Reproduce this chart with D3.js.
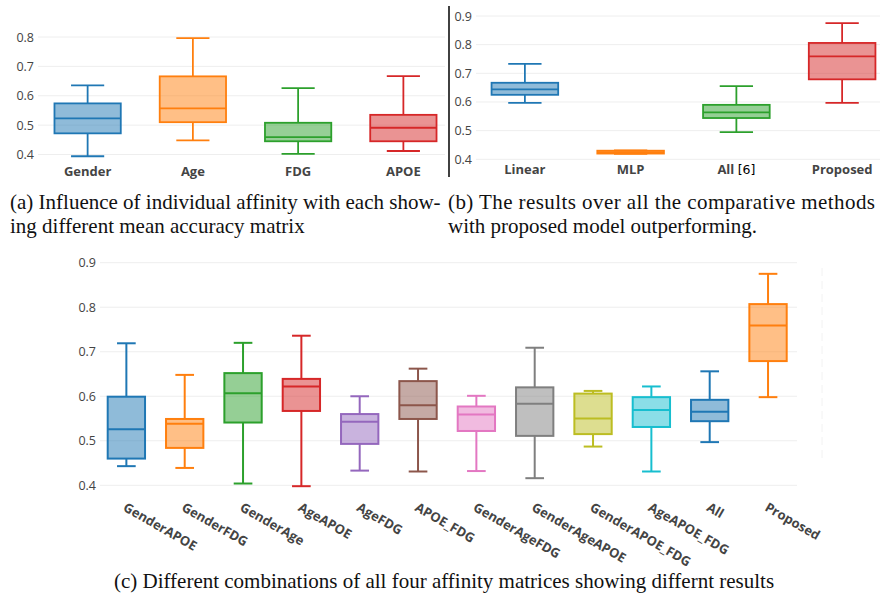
<!DOCTYPE html>
<html>
<head>
<meta charset="utf-8">
<script src="https://cdn.jsdelivr.net/npm/d3@7"></script>
<style>
  html, body { margin: 0; padding: 0; background: #fff; }
  svg { display: block; }
</style>
</head>
<body>
<svg id="chart" width="880" height="597"></svg>
<script>
// ---------- DATA ----------
// Panel (a): individual affinity
const aCategories = ["Gender", "Age", "FDG", "APOE"];
const aLower  = [0.394, 0.448, 0.402, 0.412];
const aQ1     = [0.472, 0.510, 0.445, 0.445];
const aMedian = [0.523, 0.557, 0.459, 0.491];
const aQ3     = [0.574, 0.666, 0.508, 0.535];
const aUpper  = [0.635, 0.796, 0.626, 0.667];
const aTicks  = [0.4, 0.5, 0.6, 0.7, 0.8];

// Panel (b): comparative methods
const bCategories = ["Linear", "MLP", "All [6]", "Proposed"];
const bLower  = [0.597, 0.419, 0.495, 0.597];
const bQ1     = [0.625, 0.420, 0.544, 0.679];
const bMedian = [0.644, 0.425, 0.564, 0.759];
const bQ3     = [0.667, 0.430, 0.590, 0.806];
const bUpper  = [0.733, 0.431, 0.655, 0.875];
const bTicks  = [0.4, 0.5, 0.6, 0.7, 0.8, 0.9];

// Panel (c): combinations
const cCategories = ["GenderAPOE", "GenderFDG", "GenderAge", "AgeAPOE", "AgeFDG", "APOE_FDG",
  "GenderAgeFDG", "GenderAgeAPOE", "GenderAPOE_FDG", "AgeAPOE_FDG", "All", "Proposed"];
const cLower  = [0.443, 0.439, 0.404, 0.398, 0.433, 0.431, 0.432, 0.416, 0.487, 0.431, 0.497, 0.598];
const cQ1     = [0.460, 0.484, 0.541, 0.567, 0.493, 0.549, 0.522, 0.511, 0.515, 0.531, 0.544, 0.679];
const cMedian = [0.526, 0.538, 0.607, 0.622, 0.543, 0.580, 0.559, 0.583, 0.550, 0.569, 0.565, 0.759];
const cQ3     = [0.599, 0.549, 0.652, 0.639, 0.560, 0.634, 0.577, 0.620, 0.606, 0.598, 0.592, 0.807];
const cUpper  = [0.719, 0.648, 0.720, 0.736, 0.600, 0.662, 0.601, 0.709, 0.612, 0.622, 0.656, 0.875];
const cTicks  = [0.4, 0.5, 0.6, 0.7, 0.8, 0.9];

// Captions
const captionA = ["(a) Influence of individual affinity with each show-", "ing different mean accuracy matrix"];
const captionB = ["(b) The results over all the comparative methods", "with proposed model outperforming."];
const captionC = "(c) Different combinations of all four affinity matrices showing differnt results";

// ---------- STYLE ----------
const palette = ["#1f77b4", "#ff7f0e", "#2ca02c", "#d62728", "#9467bd", "#8c564b",
                 "#e377c2", "#7f7f7f", "#bcbd22", "#17becf"];
const aColors = [palette[0], palette[1], palette[2], palette[3]];
const bColors = [palette[0], palette[1], palette[2], palette[3]];
const cColors = palette.concat([palette[0], palette[1]]);

const svg = d3.select("#chart");
const tickFont = "'Open Sans', 'DejaVu Sans', sans-serif";

function zipBoxes(cats, lo, q1, med, q3, hi, colors) {
  return cats.map((c, i) => ({ cat: c, lo: lo[i], q1: q1[i], med: med[i], q3: q3[i], hi: hi[i], color: colors[i] }));
}

function drawPanel(opts) {
  const g = svg.append("g");
  const y = d3.scaleLinear().domain(opts.yDomain).range(opts.yRange);
  const x = d3.scaleBand().domain(opts.categories).range(opts.xRange).paddingInner(0).paddingOuter(0);

  // grid lines
  g.append("g").selectAll("line").data(opts.ticks).join("line")
    .attr("x1", opts.gridX[0]).attr("x2", opts.gridX[1])
    .attr("y1", d => y(d)).attr("y2", d => y(d))
    .attr("stroke", "#eeeeee").attr("stroke-width", 1);

  // y axis labels
  const axis = d3.axisLeft(y).tickValues(opts.ticks).tickSize(0).tickPadding(0)
    .tickFormat(d3.format(".1f"));
  const ag = g.append("g").attr("transform", `translate(${opts.labelX},0)`).call(axis);
  ag.select(".domain").remove();
  ag.selectAll("text").attr("font-family", tickFont).attr("font-size", 12.5).attr("fill", "#444");

  const data = zipBoxes(opts.categories, opts.lo, opts.q1, opts.med, opts.q3, opts.hi, opts.colors);
  const bw = x.bandwidth() * opts.boxFrac;
  const sw = opts.strokeWidth;
  const boxes = g.append("g").selectAll("g").data(data).join("g")
    .attr("transform", d => `translate(${x(d.cat) + x.bandwidth() / 2},0)`);

  // whiskers
  boxes.append("line").attr("x1", 0).attr("x2", 0)
    .attr("y1", d => y(d.hi)).attr("y2", d => y(d.q3))
    .attr("stroke", d => d.color).attr("stroke-width", sw);
  boxes.append("line").attr("x1", 0).attr("x2", 0)
    .attr("y1", d => y(d.q1)).attr("y2", d => y(d.lo))
    .attr("stroke", d => d.color).attr("stroke-width", sw);
  boxes.append("line").attr("x1", -bw / 4).attr("x2", bw / 4)
    .attr("y1", d => y(d.hi)).attr("y2", d => y(d.hi))
    .attr("stroke", d => d.color).attr("stroke-width", sw);
  boxes.append("line").attr("x1", -bw / 4).attr("x2", bw / 4)
    .attr("y1", d => y(d.lo)).attr("y2", d => y(d.lo))
    .attr("stroke", d => d.color).attr("stroke-width", sw);
  // box
  boxes.append("rect")
    .attr("x", -bw / 2).attr("width", bw)
    .attr("y", d => y(d.q3)).attr("height", d => Math.max(0.5, y(d.q1) - y(d.q3)))
    .attr("fill", d => d.color).attr("fill-opacity", 0.5)
    .attr("stroke", d => d.color).attr("stroke-width", sw);
  // median
  boxes.append("line").attr("x1", -bw / 2).attr("x2", bw / 2)
    .attr("y1", d => y(d.med)).attr("y2", d => y(d.med))
    .attr("stroke", d => d.color).attr("stroke-width", sw);

  // x labels
  if (opts.rotate) {
    g.append("g").selectAll("text").data(opts.categories).join("text")
      .attr("transform", d => `translate(${x(d) + x.bandwidth() / 2 - 4},${opts.xLabelY}) rotate(30)`)
      .attr("text-anchor", "start")
      .attr("font-family", tickFont).attr("font-weight", "bold").attr("font-size", 13)
      .attr("fill", "#444").text(d => d);
  } else {
    const t = g.append("g").selectAll("text").data(opts.categories).join("text")
      .attr("x", d => x(d) + x.bandwidth() / 2).attr("y", opts.xLabelY)
      .attr("text-anchor", "middle")
      .attr("font-family", tickFont).attr("font-weight", "bold").attr("font-size", 13)
      .attr("fill", "#444");
    t.each(function (d) {
      const m = d.match(/^(.*?)(\s*\[\d+\])$/);
      const sel = d3.select(this);
      if (m) {
        sel.append("tspan").text(m[1] + " ");
        sel.append("tspan").attr("fill", "#000").attr("font-weight", "normal")
          .attr("font-family", "'DejaVu Sans', sans-serif").attr("font-size", 12.5)
          .text(m[2].trim());
      } else {
        sel.text(d);
      }
    });
  }
  return { g, x, y };
}

// Panel (a)
drawPanel({
  categories: aCategories, lo: aLower, q1: aQ1, med: aMedian, q3: aQ3, hi: aUpper, colors: aColors,
  ticks: aTicks, yDomain: [0.4, 0.8], yRange: [154.5, 37],
  xRange: [35, 456], gridX: [38, 445], labelX: 34, xLabelY: 175.5,
  boxFrac: 0.63, strokeWidth: 1.8, rotate: false
});

// Panel (b)
drawPanel({
  categories: bCategories, lo: bLower, q1: bQ1, med: bMedian, q3: bQ3, hi: bUpper, colors: bColors,
  ticks: bTicks, yDomain: [0.4, 0.9], yRange: [159.3, 16],
  xRange: [472, 895], gridX: [476, 880], labelX: 472, xLabelY: 174,
  boxFrac: 0.63, strokeWidth: 1.8, rotate: false
});
// separator / axis line of panel (b)
svg.append("line").attr("x1", 449).attr("x2", 449).attr("y1", 6).attr("y2", 177)
  .attr("stroke", "#111").attr("stroke-width", 1.6);

// Panel (c)
drawPanel({
  categories: cCategories, lo: cLower, q1: cQ1, med: cMedian, q3: cQ3, hi: cUpper, colors: cColors,
  ticks: cTicks, yDomain: [0.4, 0.9], yRange: [485.3, 262.7],
  xRange: [97.2, 797.2], gridX: [100, 797], labelX: 96, xLabelY: 510,
  boxFrac: 0.64, strokeWidth: 2, rotate: true
});
svg.append("line").attr("x1", 822).attr("x2", 822).attr("y1", 268).attr("y2", 460)
  .attr("stroke", "#f2f2f2").attr("stroke-width", 1).attr("stroke-dasharray", "8,5");

// Captions
const capFont = "'Liberation Serif', 'Times New Roman', serif";
function caption(txt, x, y, anchor, fixedLen) {
  const t = svg.append("text")
    .attr("x", x).attr("y", y).attr("text-anchor", anchor)
    .attr("font-family", capFont).attr("font-size", 21).attr("fill", "#111").text(txt);
  if (fixedLen) t.attr("textLength", fixedLen).attr("lengthAdjust", "spacing");
  return t;
}
caption(captionA[0], 10, 209, "start");
caption(captionA[1], 10, 233, "start");
caption(captionB[0], 448, 209, "start", 427);
caption(captionB[1], 448, 233, "start");
caption(captionC, 444, 588, "middle");
</script>
</body>
</html>
